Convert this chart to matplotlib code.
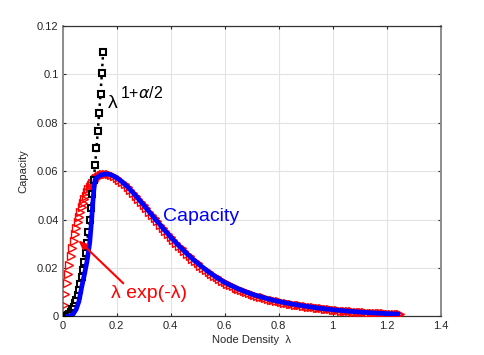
import matplotlib
matplotlib.use("Agg")
import matplotlib.pyplot as plt
from matplotlib.ticker import FuncFormatter

plt.rcParams['font.family'] = ['Liberation Sans', 'DejaVu Sans']
plt.rcParams['mathtext.fontset'] = 'dejavusans'

# lambda*exp(-lambda) (scaled) reference curve, red triangles
red_lam = [0.005, 0.01, 0.015, 0.02, 0.025, 0.03, 0.035, 0.04, 0.045, 0.05,
           0.055, 0.06, 0.065, 0.07, 0.075, 0.08, 0.085, 0.09, 0.095, 0.10,
           0.105, 0.11, 0.115, 0.12, 0.125, 0.13, 0.135, 0.14, 0.145, 0.15,
           0.16, 0.17, 0.18, 0.19, 0.20, 0.21, 0.22, 0.23, 0.24, 0.25,
           0.26, 0.27, 0.28, 0.29, 0.30, 0.31, 0.32, 0.33, 0.34, 0.35,
           0.36, 0.37, 0.38, 0.39, 0.40, 0.41, 0.42, 0.43, 0.44, 0.45,
           0.46, 0.47, 0.48, 0.49, 0.50, 0.51, 0.52, 0.53, 0.54, 0.55,
           0.56, 0.57, 0.58, 0.59, 0.60, 0.61, 0.62, 0.63, 0.64, 0.65,
           0.66, 0.67, 0.68, 0.69, 0.70, 0.71, 0.72, 0.73, 0.74, 0.75,
           0.76, 0.77, 0.78, 0.79, 0.80, 0.81, 0.82, 0.83, 0.84, 0.85,
           0.86, 0.87, 0.88, 0.89, 0.90, 0.91, 0.92, 0.93, 0.94, 0.95,
           0.96, 0.97, 0.98, 0.99, 1.00, 1.01, 1.02, 1.03, 1.04, 1.05,
           1.06, 1.07, 1.08, 1.09, 1.10, 1.11, 1.12, 1.13, 1.14, 1.15,
           1.16, 1.17, 1.18, 1.19, 1.20, 1.21, 1.22, 1.23, 1.24, 1.25]
red_val = [0.00485, 0.00939, 0.01366, 0.01765, 0.02138, 0.02487, 0.02812, 0.03115, 0.03397, 0.03658,
           0.03900, 0.04124, 0.04330, 0.04519, 0.04693, 0.04852, 0.04997, 0.05128, 0.05246, 0.05353,
           0.05447, 0.05531, 0.05605, 0.05668, 0.05723, 0.05768, 0.05806, 0.05836, 0.05858, 0.05874,
           0.05886, 0.05875, 0.05844, 0.05795, 0.05730, 0.05652, 0.05562, 0.05463, 0.05355, 0.05240,
           0.05120, 0.04995, 0.04866, 0.04735, 0.04601, 0.04466, 0.04331, 0.04195, 0.04060, 0.03927,
           0.03794, 0.03663, 0.03534, 0.03408, 0.03283, 0.03162, 0.03042, 0.02925, 0.02812, 0.02703,
           0.02595, 0.02491, 0.02390, 0.02293, 0.02197, 0.02105, 0.02017, 0.01931, 0.01848, 0.01768,
           0.01690, 0.01617, 0.01545, 0.01476, 0.01411, 0.01354, 0.01300, 0.01247, 0.01195, 0.01147,
           0.01099, 0.01054, 0.01008, 0.00968, 0.00926, 0.00890, 0.00856, 0.00823, 0.00791, 0.00759,
           0.00729, 0.00701, 0.00673, 0.00646, 0.00620, 0.00598, 0.00576, 0.00554, 0.00534, 0.00513,
           0.00494, 0.00476, 0.00457, 0.00439, 0.00423, 0.00405, 0.00390, 0.00374, 0.00359, 0.00345,
           0.00331, 0.00318, 0.00304, 0.00291, 0.00280, 0.00268, 0.00258, 0.00247, 0.00236, 0.00226,
           0.00217, 0.00207, 0.00198, 0.00190, 0.00182, 0.00175, 0.00167, 0.00161, 0.00155, 0.00148,
           0.00141, 0.00136, 0.00130, 0.00125, 0.00119, 0.00115, 0.00109, 0.00104, 0.00100, 0.00095]

# lambda^(1+alpha/2) curve, black squares
blk_lam = [0.0, 0.005, 0.01, 0.015, 0.02, 0.025, 0.03, 0.035, 0.04, 0.045,
           0.05, 0.055, 0.06, 0.065, 0.07, 0.075, 0.08, 0.085, 0.09, 0.095,
           0.10, 0.105, 0.11, 0.115, 0.12, 0.125, 0.13, 0.135, 0.14, 0.145, 0.15]
blk_val = [0.0, 0.0, 0.0001, 0.0003, 0.0007, 0.0012, 0.0020, 0.0029, 0.0040, 0.0054,
           0.0070, 0.0089, 0.0111, 0.0135, 0.0163, 0.0193, 0.0227, 0.0264, 0.0305, 0.0349,
           0.0397, 0.0449, 0.0504, 0.0563, 0.0626, 0.0694, 0.0765, 0.0841, 0.0921, 0.1005, 0.1094]

# simulated capacity, thick blue line
cap_lam = [0.01, 0.02, 0.03, 0.04, 0.05, 0.06, 0.07, 0.08, 0.09, 0.10,
           0.105, 0.11, 0.115, 0.12, 0.125, 0.13, 0.14, 0.15, 0.16, 0.17,
           0.18, 0.20, 0.22, 0.24, 0.26, 0.28, 0.30, 0.32, 0.34, 0.36,
           0.38, 0.40, 0.42, 0.44, 0.46, 0.48, 0.50, 0.52, 0.54, 0.56,
           0.58, 0.60, 0.62, 0.64, 0.66, 0.68, 0.70, 0.72, 0.74, 0.76,
           0.78, 0.80, 0.82, 0.84, 0.86, 0.88, 0.90, 0.92, 0.94, 0.96,
           0.98, 1.00, 1.02, 1.04, 1.06, 1.08, 1.10, 1.12, 1.14, 1.16,
           1.18, 1.20, 1.22, 1.24, 1.25]
cap_val = [0.0, 0.0001, 0.0004, 0.0012, 0.0030, 0.0062, 0.0120, 0.0172, 0.0228, 0.0305,
           0.0370, 0.0445, 0.0520, 0.0565, 0.0572, 0.0577, 0.0584, 0.0587, 0.05886, 0.05875,
           0.05844, 0.05730, 0.05562, 0.05355, 0.05120, 0.04866, 0.04601, 0.04331, 0.04060, 0.03794,
           0.03534, 0.03283, 0.03042, 0.02812, 0.02595, 0.02390, 0.02197, 0.02017, 0.01848, 0.01690,
           0.01545, 0.01411, 0.01300, 0.01195, 0.01099, 0.01008, 0.00926, 0.00856, 0.00791, 0.00729,
           0.00673, 0.00620, 0.00576, 0.00534, 0.00494, 0.00457, 0.00423, 0.00390, 0.00359, 0.00331,
           0.00304, 0.00280, 0.00258, 0.00236, 0.00217, 0.00198, 0.00182, 0.00167, 0.00155, 0.00141,
           0.00130, 0.00119, 0.00109, 0.00100, 0.00095]

xticks = [0, 0.2, 0.4, 0.6, 0.8, 1.0, 1.2, 1.4]
yticks = [0, 0.02, 0.04, 0.06, 0.08, 0.10, 0.12]

fig = plt.figure(figsize=(4.85, 3.55), dpi=100)
ax = fig.add_axes([0.1293, 0.1085, 0.7794, 0.8183])

ax.plot(red_lam, red_val, linestyle='none', marker='>', ms=6.2, mfc='none',
        mec='#ff0000', mew=1.0, zorder=3)
ax.plot(blk_lam, blk_val, linestyle=':', color='black', lw=1.8, marker='s', ms=4.3,
        mfc='white', mec='black', mew=1.5, zorder=4)
ax.plot(cap_lam, cap_val, color='#0000ff', lw=3.4, solid_capstyle='butt', zorder=5)

ax.set_xlim(0, 1.4)
ax.set_ylim(0, 0.12)
ax.set_xticks(xticks)
ax.set_yticks(yticks)
fmt = FuncFormatter(lambda v, p: ('%g' % round(v, 4)))
ax.xaxis.set_major_formatter(fmt)
ax.yaxis.set_major_formatter(fmt)
ax.grid(True, color='#e3e3e3', lw=0.8, zorder=0)
ax.set_axisbelow(True)
ax.tick_params(direction='in', length=2.5, width=0.8, colors='#262626',
               labelsize=8, top=True, right=True, pad=3)
ax.tick_params(axis='both', labelcolor='#262626')
for s in ('top', 'bottom'):
    ax.spines[s].set_color('#333333')
    ax.spines[s].set_linewidth(0.9)
for s in ('left', 'right'):
    ax.spines[s].set_color('#8c8c8c')
    ax.spines[s].set_linewidth(1.4)

ax.set_xlabel('Node Density  λ', fontsize=8, color='#262626', labelpad=3)
ax.set_ylabel('Capacity', fontsize=8, color='#262626', labelpad=6)

ax.text(0.370, 0.0396, 'Capacity', color='#0000ff', fontsize=14, va='baseline', ha='left', zorder=6)
ax.text(0.179, 0.0075, 'λ exp(-λ)', color='#ff0000', fontsize=14, va='baseline', ha='left', zorder=6)
ax.text(0.168, 0.0861, 'λ', color='black', fontsize=14, va='baseline', ha='left', zorder=6)
ax.text(0.213, 0.0901, r'1+$\alpha$/2', color='black', fontsize=11.5, va='baseline', ha='left', zorder=6)
ax.annotate('', xy=(0.0578, 0.0315), xytext=(0.2244, 0.0137),
            arrowprops=dict(arrowstyle='-|>,head_length=0.5,head_width=0.2',
                            color='#ff0000', lw=1.5, shrinkA=0, shrinkB=0), zorder=6)

fig.savefig('out.png', dpi=100)
